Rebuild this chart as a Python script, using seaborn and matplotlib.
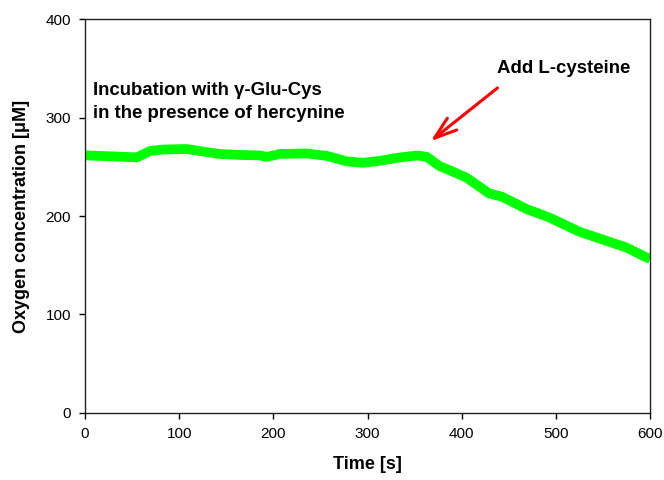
import matplotlib
matplotlib.use("Agg")
import matplotlib.pyplot as plt
import seaborn as sns
import pandas as pd

# Oxygen trace (time in s, concentration in µM)
time_s = [0, 2, 30, 55, 69, 83, 108, 125, 143, 164, 186, 193, 207, 235, 257,
          278, 295, 313, 331, 353, 363, 376, 405, 429, 443, 469, 493, 525,
          553, 575, 596, 600]
oxygen_uM = [262, 261.5, 260.5, 259.5, 266, 267.5, 268, 265.5, 263, 262, 261.5,
             260, 263, 263.5, 261, 255.5, 254, 256, 259, 261.5, 260, 251, 239,
             223, 219.5, 207, 198.5, 184, 175, 168, 158, 156.5]

x_ticks = [0, 100, 200, 300, 400, 500, 600]
y_ticks = [0, 100, 200, 300, 400]

sns.set_theme(style="white")
plt.rcParams["font.family"] = ["Liberation Sans", "DejaVu Sans"]
plt.rcParams["text.color"] = "black"
plt.rcParams["axes.labelcolor"] = "black"
plt.rcParams["xtick.color"] = "black"
plt.rcParams["ytick.color"] = "black"

df = pd.DataFrame({"Time [s]": time_s, "Oxygen": oxygen_uM})

fig = plt.figure(figsize=(6.64, 4.8), dpi=100)
ax = fig.add_axes([0.128, 0.1396, 0.851, 0.8208])

sns.lineplot(data=df, x="Time [s]", y="Oxygen", ax=ax, color="#00ff00",
             linewidth=7, solid_capstyle="butt", solid_joinstyle="round")

ax.set_xlim(0, 600)
ax.set_ylim(0, 400)
ax.set_xticks(x_ticks)
ax.set_yticks(y_ticks)
ax.tick_params(axis="both", which="major", direction="out", length=4, width=1,
               labelsize=11, pad=6, bottom=True, left=True)
for side in ["left", "right", "top", "bottom"]:
    ax.spines[side].set_visible(True)
    ax.spines[side].set_color("#222222")
    ax.spines[side].set_linewidth(1.0)

ax.set_xlabel("Time [s]", fontsize=13, fontweight="bold", labelpad=11)
ax.set_ylabel("Oxygen concentration [μM]", fontsize=13, fontweight="bold",
              labelpad=11)

ax.text(8, 323, "Incubation with γ-Glu-Cys", fontsize=13.4,
        fontweight="bold", ha="left", va="baseline")
ax.text(8, 299.5, "in the presence of hercynine", fontsize=13.4,
        fontweight="bold", ha="left", va="baseline")
ax.text(508, 345, "Add L-cysteine", fontsize=13.4, fontweight="bold",
        ha="center", va="baseline")
ax.annotate("", xy=(367, 276), xytext=(438, 330),
            arrowprops=dict(arrowstyle="->,head_length=1.35,head_width=0.45",
                            color="red", lw=2.2, shrinkA=0, shrinkB=0))

fig.savefig("out.png", dpi=100)
